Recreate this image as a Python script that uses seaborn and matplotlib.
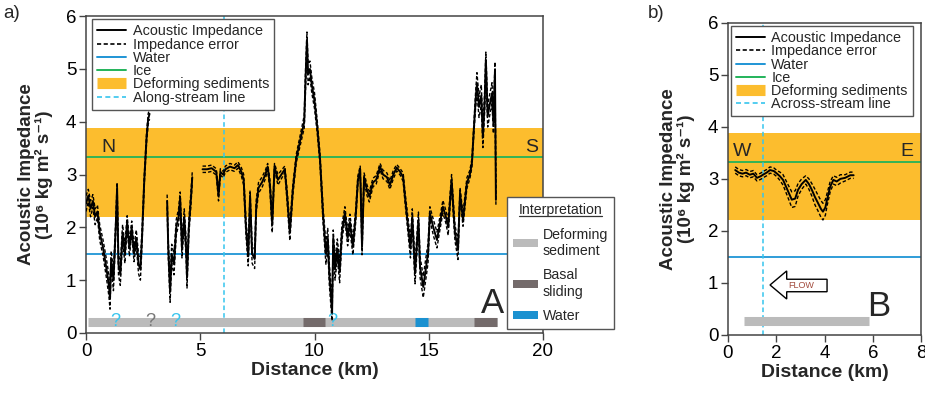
import numpy as np
import pandas as pd
import matplotlib
matplotlib.use("Agg")
import matplotlib.pyplot as plt
from matplotlib.lines import Line2D
from matplotlib.patches import Patch, Polygon
import seaborn as sns

# ---- data ----
# a) along-stream profile, three pieces with gaps between them
dist_a1 = [0.0, 0.1, 0.2, 0.3, 0.4, 0.5, 0.6, 0.75, 0.9, 1.0,
           1.05, 1.1, 1.2, 1.3, 1.36, 1.42, 1.5, 1.6, 1.7, 1.8,
           1.9, 2.0, 2.1, 2.2, 2.3, 2.38, 2.45, 2.55, 2.65, 2.72,
           2.78]
imp_a1 = [2.45, 2.6, 2.35, 2.5, 2.2, 2.3, 1.9, 1.6, 1.2, 0.9,
          0.65, 1.4, 1.0, 2.0, 2.75, 1.3, 1.1, 1.9, 1.5, 2.1,
          1.6, 2.0, 1.5, 1.8, 1.3, 1.2, 1.8, 2.9, 3.7, 4.05,
          4.15]
err_a1 = [0.15, 0.12, 0.15, 0.12, 0.15, 0.12, 0.15, 0.15, 0.18, 0.2,
          0.2, 0.15, 0.2, 0.12, 0.1, 0.2, 0.2, 0.15, 0.18, 0.12,
          0.15, 0.12, 0.15, 0.15, 0.18, 0.2, 0.15, 0.1, 0.1, 0.1,
          0.1]

dist_a2 = [3.55, 3.6, 3.68, 3.75, 3.85, 3.95, 4.05, 4.12, 4.2, 4.3,
           4.38, 4.42, 4.5, 4.6, 4.65]
imp_a2 = [2.5, 1.6, 0.78, 1.5, 1.3, 2.0, 2.2, 2.55, 1.6, 2.2,
          1.6, 1.05, 2.0, 2.6, 2.95]
err_a2 = [0.12, 0.18, 0.2, 0.18, 0.2, 0.15, 0.15, 0.12, 0.18, 0.15,
          0.18, 0.2, 0.15, 0.12, 0.1]

dist_a3 = [5.1, 5.3, 5.5, 5.7, 5.8, 5.88, 6.0, 6.1, 6.3, 6.5,
           6.65, 6.8, 6.9, 7.0, 7.1, 7.18, 7.27, 7.38, 7.45, 7.55,
           7.7, 7.85, 7.95, 8.05, 8.15, 8.25, 8.4, 8.55, 8.7, 8.8,
           8.92, 9.05, 9.2, 9.4, 9.55, 9.6, 9.67, 9.72, 9.8, 9.88,
           10.0, 10.12, 10.24, 10.38, 10.5, 10.58, 10.65, 10.72, 10.77, 10.82,
           10.9, 11.0, 11.1, 11.2, 11.33, 11.45, 11.55, 11.68, 11.8, 11.9,
           12.0, 12.08, 12.17, 12.3, 12.4, 12.56, 12.7, 12.87, 13.0, 13.17,
           13.3, 13.45, 13.6, 13.75, 13.88, 13.96, 14.1, 14.2, 14.28, 14.4,
           14.55, 14.62, 14.76, 14.9, 14.97, 15.05, 15.2, 15.36, 15.5, 15.62,
           15.75, 15.85, 16.0, 16.1, 16.15, 16.28, 16.37, 16.5, 16.67, 16.8,
           16.89, 16.98, 17.05, 17.11, 17.2, 17.3, 17.37, 17.45, 17.5, 17.58,
           17.66, 17.77, 17.83, 17.9, 17.94]
imp_a3 = [3.1, 3.1, 3.12, 3.05, 2.6, 3.05, 3.0, 3.1, 3.15, 3.12,
          3.18, 3.05, 2.9, 2.0, 1.45, 2.6, 1.5, 1.4, 2.4, 2.75,
          2.85, 3.0, 3.15, 2.8, 2.05, 3.15, 2.9, 3.0, 3.1, 2.6,
          1.9, 2.7, 3.3, 3.7, 4.0, 4.7, 5.55, 4.9, 5.0, 4.7,
          4.4, 3.9, 3.3, 2.2, 1.5, 1.8, 1.1, 0.7, 0.38, 1.8,
          1.2, 1.6, 1.15, 1.9, 2.27, 1.8, 2.1, 1.63, 2.2, 2.9,
          3.1, 1.63, 2.95, 2.7, 2.58, 2.85, 2.9, 3.15, 3.0, 2.95,
          2.8, 3.0, 3.13, 3.05, 2.95, 2.58, 2.0, 1.6, 2.2, 1.13,
          2.14, 1.25, 0.87, 1.3, 1.51, 2.27, 2.0, 1.76, 2.1, 2.39,
          2.2, 2.0, 2.9, 2.2, 1.89, 1.57, 2.65, 2.14, 2.84, 3.0,
          3.22, 3.9, 4.4, 4.73, 4.28, 4.5, 3.71, 4.4, 5.17, 4.1,
          4.3, 4.54, 3.98, 4.98, 2.52]
err_a3 = [0.06, 0.06, 0.06, 0.06, 0.1, 0.06, 0.06, 0.06, 0.06, 0.06,
          0.06, 0.08, 0.1, 0.15, 0.18, 0.1, 0.18, 0.18, 0.12, 0.1,
          0.1, 0.08, 0.06, 0.1, 0.15, 0.06, 0.1, 0.08, 0.06, 0.12,
          0.15, 0.1, 0.08, 0.1, 0.12, 0.2, 0.15, 0.2, 0.15, 0.15,
          0.15, 0.12, 0.1, 0.15, 0.2, 0.18, 0.2, 0.2, 0.15, 0.15,
          0.2, 0.18, 0.2, 0.15, 0.12, 0.15, 0.15, 0.15, 0.12, 0.08,
          0.06, 0.15, 0.08, 0.1, 0.1, 0.08, 0.08, 0.06, 0.08, 0.08,
          0.08, 0.08, 0.06, 0.06, 0.08, 0.1, 0.15, 0.18, 0.15, 0.2,
          0.15, 0.2, 0.2, 0.2, 0.18, 0.12, 0.15, 0.15, 0.12, 0.12,
          0.12, 0.15, 0.1, 0.15, 0.15, 0.18, 0.1, 0.12, 0.1, 0.08,
          0.08, 0.1, 0.15, 0.2, 0.2, 0.2, 0.2, 0.2, 0.15, 0.2,
          0.2, 0.2, 0.2, 0.15, 0.1]

# b) across-stream profile
dist_b = [0.3, 0.45, 0.6, 0.75, 0.9, 1.05, 1.2, 1.35, 1.45, 1.6,
          1.74, 1.9, 2.03, 2.15, 2.28, 2.45, 2.64, 2.78, 2.9, 3.05,
          3.22, 3.35, 3.47, 3.6, 3.72, 3.85, 3.93, 4.03, 4.1, 4.23,
          4.36, 4.5, 4.65, 4.85, 5.06, 5.2]
imp_b = [3.17, 3.12, 3.1, 3.12, 3.08, 3.1, 3.02, 3.05, 3.08, 3.12,
         3.17, 3.15, 3.1, 3.05, 2.98, 2.8, 2.6, 2.62, 2.79, 2.9,
         2.98, 2.9, 2.79, 2.65, 2.54, 2.42, 2.37, 2.45, 2.6, 2.85,
         2.98, 2.95, 3.0, 3.02, 3.07, 3.07]
err_b = [0.06, 0.06, 0.06, 0.06, 0.06, 0.06, 0.06, 0.06, 0.06, 0.06,
         0.06, 0.06, 0.06, 0.08, 0.1, 0.12, 0.15, 0.15, 0.12, 0.1,
         0.08, 0.1, 0.12, 0.15, 0.15, 0.16, 0.16, 0.15, 0.12, 0.1,
         0.08, 0.08, 0.08, 0.06, 0.06, 0.06]

# reference impedances
water_imp = 1.5
ice_imp = 3.33
sed_low, sed_high = 2.2, 3.88
along_x = 6.05   # crossing of the across-stream line
across_x = 1.47  # crossing of the along-stream line

# interpretation bar (km)
interp_a_start = [0.1, 9.5, 14.4, 17.0]
interp_a_end = [18.0, 10.45, 14.95, 18.0]
interp_a_kind = ["Deforming\nsediment", "Basal\nsliding", "Water", "Basal\nsliding"]
qmark_x = [1.27, 2.83, 3.9, 10.8]
qmark_kind = ["Water", "Basal\nsliding", "Water", "Water"]
interp_b_start = [0.66]
interp_b_end = [5.83]

# ---- style ----
sns.set_style("ticks")
plt.rcParams["font.family"] = ["Liberation Sans", "DejaVu Sans"]
plt.rcParams["axes.edgecolor"] = "#444444"
plt.rcParams["xtick.color"] = "#444444"
plt.rcParams["ytick.color"] = "#444444"
plt.rcParams["xtick.labelcolor"] = "black"
plt.rcParams["ytick.labelcolor"] = "black"

c_sed = "#fcbd2e"
c_ice = "#22b35a"
c_water = "#1f95d5"
c_cyan = "#36c5ee"
interp_colors = {"Deforming\nsediment": "#bbbbbb", "Basal\nsliding": "#746b6b", "Water": "#1b91d0"}


def to_frame(pieces):
    rows = []
    for i, (d, v, e) in enumerate(pieces):
        assert len(d) == len(v) == len(e)
        for dd, vv, ee in zip(d, v, e):
            rows.append({"seg": i, "dist": dd, "imp": vv, "lo": vv - ee, "hi": vv + ee})
    return pd.DataFrame(rows)


df_a = to_frame([(dist_a1, imp_a1, err_a1), (dist_a2, imp_a2, err_a2), (dist_a3, imp_a3, err_a3)])
df_b = to_frame([(dist_b, imp_b, err_b)])

fig = plt.figure(figsize=(9.25, 3.94), dpi=100)
ax1 = fig.add_axes([0.093, 0.155, 0.494, 0.804])
ax2 = fig.add_axes([0.787, 0.150, 0.209, 0.792])


def draw_profile(ax, df, xmax, vline_x, stream_label):
    ax.axhspan(sed_low, sed_high, color=c_sed, lw=0, zorder=0)
    ax.axhline(ice_imp, color=c_ice, lw=1.3, zorder=1)
    ax.axhline(water_imp, color=c_water, lw=1.3, zorder=1)
    ax.axvline(vline_x, color=c_cyan, lw=1.1, ls=(0, (3, 2)), zorder=1)
    for col in ["lo", "hi"]:
        sns.lineplot(data=df, x="dist", y=col, units="seg", estimator=None, sort=False,
                     color="black", lw=1.0, ls=(0, (2.5, 1.5)), ax=ax, zorder=3)
    sns.lineplot(data=df, x="dist", y="imp", units="seg", estimator=None, sort=False,
                 color="black", lw=1.4, ax=ax, zorder=4)
    ax.set_xlim(0, xmax)
    ax.set_ylim(0, 6)
    ax.set_xlabel("Distance (km)", fontsize=14, fontweight="bold", labelpad=2)
    ax.set_ylabel("Acoustic Impedance\n(10\u2076 kg m\u00b2 s\u207b\u00b9)", fontsize=13.5,
                  fontweight="bold", labelpad=9, linespacing=1.05)
    ax.tick_params(labelsize=13.5, length=5, width=1, direction="out", pad=2)
    for s in ax.spines.values():
        s.set_linewidth(1.1)
    handles = [Line2D([], [], color="black", lw=1.4),
               Line2D([], [], color="black", lw=1.2, ls=(0, (2.5, 1.5))),
               Line2D([], [], color=c_water, lw=1.4),
               Line2D([], [], color=c_ice, lw=1.4),
               Line2D([], [], color=c_sed, lw=8, solid_capstyle="butt"),
               Line2D([], [], color=c_cyan, lw=1.2, ls=(0, (3, 2)))]
    labels = ["Acoustic Impedance", "Impedance error", "Water", "Ice",
              "Deforming sediments", stream_label]
    leg = ax.legend(handles, labels, loc="upper left", bbox_to_anchor=(0.014, 0.99),
                    borderaxespad=0, fontsize=10.4, handlelength=2.0, handletextpad=0.45,
                    labelspacing=-0.05, borderpad=0.35, fancybox=False, framealpha=1,
                    edgecolor="#555555")
    leg.get_frame().set_linewidth(1.0)
    leg.set_zorder(6)


draw_profile(ax1, df_a, 20, along_x, "Along-stream line")
draw_profile(ax2, df_b, 8, across_x, "Across-stream line")
ax1.set_xticks([0, 5, 10, 15, 20])
ax2.set_xticks([0, 2, 4, 6, 8])

# interpretation bars
for s, e, k in zip(interp_a_start, interp_a_end, interp_a_kind):
    ax1.hlines(0.2, s, e, color=interp_colors[k], lw=6.5, zorder=2)
for qx, k in zip(qmark_x, qmark_kind):
    qc = c_cyan if k == "Water" else "#777777"
    ax1.text(qx, 0.22, "?", color=qc, fontsize=13, ha="center", va="center", zorder=3)
for s, e in zip(interp_b_start, interp_b_end):
    ax2.hlines(0.26, s, e, color=interp_colors["Deforming\nsediment"], lw=6.5, zorder=2)

# compass letters and panel letters
ax1.text(0.96, 3.52, "N", fontsize=14, ha="center", va="center", zorder=5)
ax1.text(19.5, 3.52, "S", fontsize=14, ha="center", va="center", zorder=5)
ax2.text(0.6, 3.52, "W", fontsize=14, ha="center", va="center", zorder=5)
ax2.text(7.4, 3.52, "E", fontsize=14, ha="center", va="center", zorder=5)
ax1.text(17.8, 0.38, "A", fontsize=25, ha="center", va="baseline", zorder=5)
ax2.text(6.25, 0.36, "B", fontsize=25, ha="center", va="baseline", zorder=5)
fig.text(0.004, 0.965, "a)", fontsize=13.5, va="center")
fig.text(0.700, 0.965, "b)", fontsize=13.5, va="center")

# flow arrow
arrow = Polygon([(1.74, 0.96), (2.43, 1.23), (2.43, 1.07), (4.1, 1.07),
                 (4.1, 0.83), (2.43, 0.83), (2.43, 0.69)], closed=True,
                facecolor="white", edgecolor="black", lw=1.0, zorder=5)
ax2.add_patch(arrow)
ax2.text(3.02, 0.95, "FLOW", fontsize=6.5, color="#a24a3c", ha="center", va="center", zorder=6)

# interpretation legend
ih = [Patch(facecolor=interp_colors[k], edgecolor="none") for k in
      ["Deforming\nsediment", "Basal\nsliding", "Water"]]
ileg = fig.legend(ih, ["Deforming\nsediment", "Basal\nsliding", "Water"],
                  title="Interpretation", loc="lower left", bbox_to_anchor=(0.548, 0.165),
                  borderaxespad=0, fontsize=10.2, title_fontsize=10.2, handlelength=1.8,
                  handleheight=0.5, handletextpad=0.35, labelspacing=0.75, borderpad=0.4,
                  fancybox=False, framealpha=1, edgecolor="#555555")
ileg.get_frame().set_linewidth(1.0)
ileg.set_zorder(10)

fig.canvas.draw()
tb = ileg.get_title().get_window_extent()
inv = fig.transFigure.inverted()
(x0, y0), (x1, _) = inv.transform([(tb.x0, tb.y0 + 1), (tb.x1, tb.y0 + 1)])
fig.add_artist(Line2D([x0, x1], [y0, y0], color="#333333", lw=0.9, zorder=11))

fig.savefig("out.png", dpi=100)
